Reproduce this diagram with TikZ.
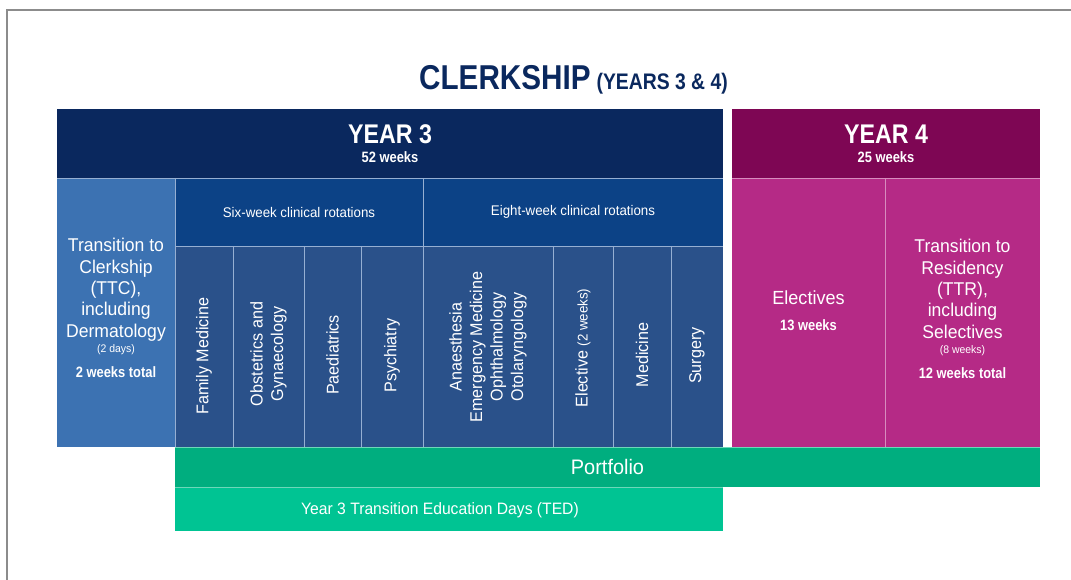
\documentclass[tikz,border=0pt]{standalone}
\usepackage{fontspec}
\setmainfont{Liberation Sans}[FakeStretch=0.95]
\newfontfamily\hdfont{Liberation Sans}[FakeStretch=0.86]
\definecolor{navy}{RGB}{10,40,94}
\definecolor{hdblue}{RGB}{12,66,134}
\definecolor{colblue}{RGB}{42,81,138}
\definecolor{ttcblue}{RGB}{60,114,178}
\definecolor{plum}{RGB}{126,6,84}
\definecolor{magenta4}{RGB}{181,42,134}
\definecolor{portgreen}{RGB}{0,174,127}
\definecolor{tedgreen}{RGB}{0,196,147}
\definecolor{divline}{RGB}{150,175,210}
\definecolor{divpink}{RGB}{215,140,190}
\definecolor{divgreen}{RGB}{110,215,185}
\definecolor{framegray}{RGB}{140,140,140}
\newcommand{\fsz}[2]{\fontsize{#1}{#2}\selectfont}
\begin{document}
\begin{tikzpicture}[x=1pt,y=-1pt,
  cell/.style={draw=none, inner sep=0pt, outer sep=0pt, anchor=north west},
  div/.style={draw=divline, line width=0.7pt},
  wtext/.style={text=white, inner sep=0pt, outer sep=0pt, align=center},
  rottext/.style={wtext, rotate=90, font=\fsz{17}{20.5}},
  boldsm/.style={wtext, font=\hdfont\bfseries\fsz{15}{17}},
  smalltext/.style={wtext, font=\fsz{11}{13}},
]
\useasboundingbox[fill=white] (0,0) rectangle (1071,580);
% frame
\coordinate (fbl) at (7,580);
\coordinate (ftl) at (7,10);
\coordinate (ftr) at (1071,10);
\draw[framegray, line width=1.5pt] (fbl) -- (ftl) -- (ftr);

% title
\node[anchor=base, text=navy, inner sep=0pt] (title) at (573.5,90)
  {\hdfont\bfseries\fsz{34.5}{40}CLERKSHIP\hspace{6pt}\fsz{22.5}{26}(YEARS 3 \& 4)};

% year headers
\node[cell, fill=navy, minimum width=666, minimum height=69] (y3h) at (57,109) {};
\node[cell, fill=plum, minimum width=308, minimum height=69] (y4h) at (732,109) {};
\node[wtext, anchor=base, font=\hdfont\bfseries\fsz{27}{30}] (y3t) at (390,144) {YEAR 3};
\node[wtext, anchor=base, font=\hdfont\bfseries\fsz{15}{17}] (y3w) at (390,163) {52 weeks};
\node[wtext, anchor=base, font=\hdfont\bfseries\fsz{27}{30}] (y4t) at (886,144) {YEAR 4};
\node[wtext, anchor=base, font=\hdfont\bfseries\fsz{15}{17}] (y4w) at (886,163) {25 weeks};

% TTC
\node[cell, fill=ttcblue, minimum width=118, minimum height=269] (ttc) at (57,178) {};
\node[wtext, anchor=north, font=\fsz{18.5}{21.3}] (ttct) at (116,238.5)
  {Transition to\\Clerkship\\(TTC),\\including\\Dermatology};
\node[smalltext, anchor=base] (ttcs) at (116,352) {(2 days)};
\node[boldsm, anchor=base] (ttcb) at (116,377) {2 weeks total};

% rotation headers
\node[cell, fill=hdblue, minimum width=248, minimum height=68] (six) at (175,178) {};
\node[cell, fill=hdblue, minimum width=300, minimum height=68] (eight) at (423,178) {};
\node[wtext, font=\fsz{14}{16}] (sixt) at (six.center) {Six-week clinical rotations};
\node[wtext, font=\fsz{14}{16}] (eightt) at (eight.center) {Eight-week clinical rotations};

% columns
\node[cell, fill=colblue, minimum width=58, minimum height=201] (fam) at (175,246) {};
\node[cell, fill=colblue, minimum width=71, minimum height=201] (obg) at (233,246) {};
\node[cell, fill=colblue, minimum width=57, minimum height=201] (pae) at (304,246) {};
\node[cell, fill=colblue, minimum width=62, minimum height=201] (psy) at (361,246) {};
\node[cell, fill=colblue, minimum width=130, minimum height=201] (ana) at (423,246) {};
\node[cell, fill=colblue, minimum width=60, minimum height=201] (ele) at (553,246) {};
\node[cell, fill=colblue, minimum width=58, minimum height=201] (med) at (613,246) {};
\node[cell, fill=colblue, minimum width=52, minimum height=201] (sur) at (671,246) {};

\node[rottext] (famt) at (204,356) {Family Medicine};
\node[rottext] (obgt) at (268.5,354) {Obstetrics and\\Gynaecology};
\node[rottext] (paet) at (332.5,355) {Paediatrics};
\node[rottext] (psyt) at (392,355.5) {Psychiatry};
\node[rottext] (anat) at (488,347) {Anaesthesia\\Emergency Medicine\\Ophthalmology\\Otolaryngology};
\node[rottext] (elet) at (583,348) {Elective {\fsz{14}{16}(2 weeks)}};
\node[rottext] (medt) at (642,355) {Medicine};
\node[rottext] (surt) at (697,355.5) {Surgery};

% year 4 body
\node[cell, fill=magenta4, minimum width=153, minimum height=269] (elv) at (732,178) {};
\node[cell, fill=magenta4, minimum width=155, minimum height=269] (ttr) at (885,178) {};
\node[wtext, anchor=base, font=\fsz{19}{21}] (elvt) at (808.5,304) {Electives};
\node[boldsm, anchor=base] (elvw) at (808.5,330) {13 weeks};
\node[wtext, anchor=north, font=\fsz{18.5}{21.3}] (ttrt) at (962.5,239.5)
  {Transition to\\Residency\\(TTR),\\including\\Selectives};
\node[smalltext, anchor=base] (ttrs) at (962.5,353) {(8 weeks)};
\node[boldsm, anchor=base] (ttrb) at (962.5,378) {12 weeks total};

% bottom bars
\node[cell, fill=portgreen, minimum width=865, minimum height=40] (port) at (175,447) {};
\node[cell, fill=tedgreen, minimum width=548, minimum height=44] (ted) at (175,487) {};
\node[wtext, font=\fsz{21}{24}] (portt) at (607.5,467) {Portfolio};
\node[wtext, font=\fsz{16.5}{19}] (tedt) at (440,510) {Year 3 Transition Education Days (TED)};

% internal divider lines
\draw[div] (y3h.south west) -- (y3h.south east);
\draw[div, draw=divpink] (y4h.south west) -- (y4h.south east);
\draw[div] (ttc.north east) -- (ttc.south east);
\draw[div] (six.north east) -- (sur.south west -| six.north east);
\draw[div] (six.south west) -- (eight.south east);
\foreach \c in {fam,obg,pae,ana,ele,med}
  \draw[div] (\c.north east) -- (\c.south east);
\draw[div, draw=divpink] (elv.north east) -- (elv.south east);
\draw[div, draw=divgreen] (port.north west) -- (port.north east);
\draw[div, draw=divgreen] (ted.north west) -- (ted.north east);
\end{tikzpicture}
\end{document}
